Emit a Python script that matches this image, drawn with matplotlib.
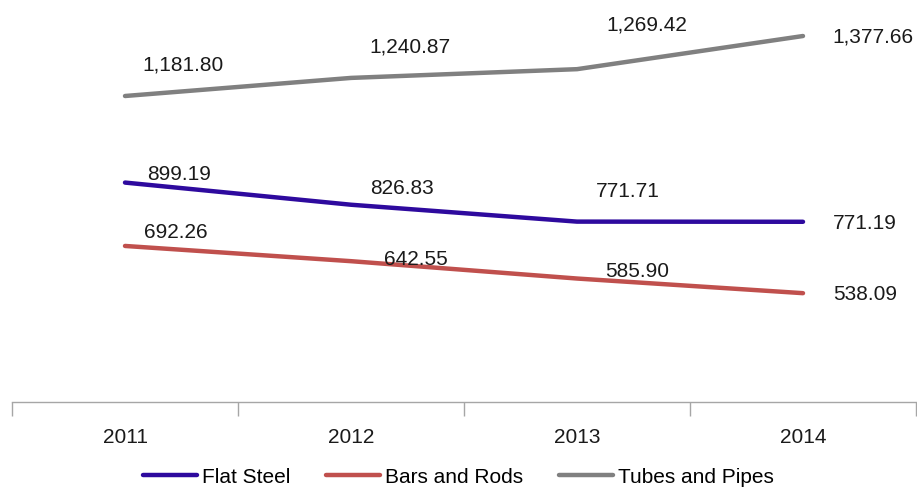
import matplotlib
matplotlib.use("Agg")
import matplotlib.pyplot as plt

years = ["2011", "2012", "2013", "2014"]
flat_steel = [899.19, 826.83, 771.71, 771.19]
bars_rods = [692.26, 642.55, 585.90, 538.09]
tubes_pipes = [1181.80, 1240.87, 1269.42, 1377.66]

series = [
    ("Flat Steel", flat_steel, "#2E0A9E", [(54, 9), (51, 17), (51, 31), (62, -1)]),
    ("Bars and Rods", bars_rods, "#C0504D", [(51, 14), (65, 3), (60, 8), (62, 0)]),
    ("Tubes and Pipes", tubes_pipes, "#808080", [(58, 32), (59, 32), (70, 45), (70, 0)]),
]

W, H = 917, 489
fig = plt.figure(figsize=(W / 100, H / 100), dpi=100)
ax = fig.add_axes([12 / W, 1 - 403 / H, (916 - 12) / W, 403 / H])

x = list(range(len(years)))
handles = []
for name, vals, color, offs in series:
    h, = ax.plot(x, vals, color=color, lw=3.2, solid_capstyle="round", solid_joinstyle="round", label=name)
    handles.append(h)
    for xi, v, (dx, dy) in zip(x, vals, offs):
        ax.annotate(f"{v:,.2f}", (xi, v), xytext=(dx, dy), textcoords="offset pixels",
                    ha="center", va="center", fontsize=15, color="#1a1a1a",
                    family="Liberation Sans")

ax.set_xlim(-0.5, 3.5)
ax.set_ylim(182.8, 1498.5)
for s in ["top", "right", "left"]:
    ax.spines[s].set_visible(False)
ax.spines["bottom"].set_color("#A6A6A6")
ax.spines["bottom"].set_linewidth(1.0)
ax.set_yticks([])
ax.set_xticks(x)
ax.set_xticklabels(years, fontsize=15, color="#1a1a1a", family="Liberation Sans")
ax.tick_params(axis="x", which="major", length=0, pad=18)
ax.set_xticks([-0.5, 0.5, 1.5, 2.5, 3.5], minor=True)
ax.tick_params(axis="x", which="minor", length=10, width=1.0, color="#A6A6A6", direction="out")

fig.legend(handles=handles, loc="center", bbox_to_anchor=(0.5, 1 - 478 / H), ncol=3,
           frameon=False, prop={"family": "Liberation Sans", "size": 15}, handlelength=2.6,
           handletextpad=0.25, columnspacing=1.7)

fig.savefig("out.png", dpi=100)
